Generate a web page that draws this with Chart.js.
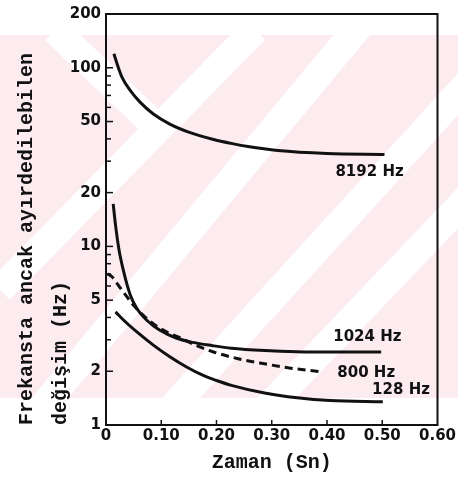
<!DOCTYPE html>
<html>
<head>
<meta charset="utf-8">
<script src="https://cdn.jsdelivr.net/npm/chart.js@4/dist/chart.umd.min.js"></script>
<style>
  html, body { margin: 0; padding: 0; background: #fff; }
  #wrap { width: 458px; height: 484px; }
</style>
</head>
<body>
<div id="wrap"><canvas id="chart" width="458" height="484"></canvas></div>
<script>
// Values (time in s, frequency change in Hz)
const x8192 = [0.0143, 0.0202, 0.0291, 0.0441, 0.062, 0.0857, 0.1155, 0.151, 0.193, 0.2286, 0.257, 0.311, 0.40, 0.504];
const y8192 = [119.7, 104.9, 88.3, 74.4, 64.0, 55.1, 48.4, 43.5, 39.8, 37.6, 36.2, 34.4, 33.1, 32.7];

const x1024 = [0.013, 0.0173, 0.0232, 0.0321, 0.0441, 0.0559, 0.0738, 0.0976, 0.127, 0.157, 0.193, 0.227, 0.2875, 0.346, 0.405, 0.498];
const y1024 = [17.3, 13.1, 9.71, 7.19, 5.32, 4.49, 3.86, 3.39, 3.07, 2.90, 2.78, 2.69, 2.61, 2.57, 2.56, 2.56];

const x800 = [0.0024, 0.0113, 0.0202, 0.029, 0.038, 0.047, 0.08, 0.1095, 0.133, 0.16, 0.192, 0.239, 0.287, 0.3345, 0.388];
const y800 = [7.03, 6.74, 6.19, 5.68, 5.21, 4.79, 3.80, 3.32, 3.09, 2.82, 2.58, 2.35, 2.20, 2.08, 1.99];

const x128 = [0.0173, 0.0321, 0.0559, 0.0857, 0.1155, 0.145, 0.175, 0.2, 0.227, 0.287, 0.346, 0.406, 0.501];
const y128 = [4.30, 3.86, 3.32, 2.80, 2.41, 2.12, 1.90, 1.775, 1.667, 1.51, 1.42, 1.37, 1.35];

const seriesLabels = ['8192 Hz', '1024 Hz', '800 Hz', '128 Hz'];
const labelX = [0.477, 0.473, 0.471, 0.534];
const labelY = [25.9, 3.10, 1.95, 1.57];

const yTickValues = [1, 2, 3, 4, 5, 6, 7, 8, 9, 10, 20, 30, 40, 50, 60, 70, 80, 90, 100, 200];
const yTickLabels = [1, 2, 5, 10, 20, 50, 100, 200];
const xTickValues = [0, 0.1, 0.2, 0.3, 0.4, 0.5, 0.6];

const toPoints = (xs, ys) => xs.map((x, i) => ({ x: x, y: ys[i] }));

const ink = '#111';
const tickFont = { family: 'DejaVu Sans', weight: 'bold', size: 15 };
const titleFont = { family: 'Liberation Mono', weight: 'bold', size: 20 };

// faint pink watermark band with white diagonal stripes behind the plot
const watermark = {
  id: 'watermark',
  beforeDraw(chart) {
    const ctx = chart.ctx;
    ctx.save();
    ctx.fillStyle = '#fff';
    ctx.fillRect(0, 0, chart.width, chart.height);
    ctx.beginPath();
    ctx.rect(0, 35, chart.width, 363);
    ctx.clip();
    ctx.fillStyle = '#fdecef';
    ctx.fillRect(0, 35, chart.width, 363);
    ctx.strokeStyle = '#fff';
    ctx.lineWidth = 28;
    const stripes = [
      [55, 30, 165, 135],
      [0, 290, 255, 30],
      [40, 410, 360, 25],
      [170, 410, 480, 70],
      [265, 410, 480, 185]
    ];
    stripes.forEach(s => {
      ctx.beginPath();
      ctx.moveTo(s[0], s[1]);
      ctx.lineTo(s[2], s[3]);
      ctx.stroke();
    });
    ctx.restore();
  }
};

// box frame, inward tick marks and curve labels
const frame = {
  id: 'frame',
  afterDraw(chart) {
    const ctx = chart.ctx;
    const a = chart.chartArea;
    const xs = chart.scales.x;
    const ys = chart.scales.y;
    ctx.save();
    ctx.strokeStyle = ink;
    ctx.lineWidth = 2;
    ctx.strokeRect(a.left, a.top, a.right - a.left, a.bottom - a.top);

    ctx.lineWidth = 1.5;
    yTickValues.forEach(v => {
      if (v === 1 || v === 200) return;
      const py = ys.getPixelForValue(v);
      const len = yTickLabels.includes(v) ? 7 : 5;
      ctx.beginPath();
      ctx.moveTo(a.left, py);
      ctx.lineTo(a.left + len, py);
      ctx.stroke();
    });
    xTickValues.forEach(v => {
      if (v === 0 || v === 0.6) return;
      const px = xs.getPixelForValue(v);
      ctx.beginPath();
      ctx.moveTo(px, a.bottom);
      ctx.lineTo(px, a.bottom - 5);
      ctx.stroke();
    });

    ctx.fillStyle = ink;
    ctx.font = 'bold 15px "DejaVu Sans"';
    ctx.textAlign = 'center';
    ctx.textBaseline = 'middle';
    seriesLabels.forEach((t, i) => {
      ctx.fillText(t, xs.getPixelForValue(labelX[i]), ys.getPixelForValue(labelY[i]));
    });
    ctx.restore();
  }
};

const lineStyle = {
  borderColor: ink,
  borderWidth: 3,
  pointRadius: 0,
  fill: false,
  cubicInterpolationMode: 'monotone'
};

new Chart(document.getElementById('chart').getContext('2d'), {
  type: 'line',
  data: {
    datasets: [
      Object.assign({ label: seriesLabels[0], data: toPoints(x8192, y8192) }, lineStyle),
      Object.assign({ label: seriesLabels[1], data: toPoints(x1024, y1024) }, lineStyle),
      Object.assign({ label: seriesLabels[2], data: toPoints(x800, y800), borderDash: [8, 5] }, lineStyle),
      Object.assign({ label: seriesLabels[3], data: toPoints(x128, y128) }, lineStyle)
    ]
  },
  options: {
    responsive: false,
    animation: false,
    layout: { padding: { left: 0, right: 16, top: 13, bottom: 0 } },
    plugins: {
      legend: { display: false },
      tooltip: { enabled: false },
      title: { display: false }
    },
    scales: {
      x: {
        type: 'linear',
        min: 0,
        max: 0.6,
        afterFit: s => { s.height = 59; },
        afterBuildTicks: s => { s.ticks = xTickValues.map(v => ({ value: v })); },
        grid: { display: false, drawTicks: false },
        border: { display: false },
        ticks: {
          autoSkip: false,
          maxRotation: 0,
          padding: 2,
          color: ink,
          font: tickFont,
          callback: v => (v === 0 ? '0' : v.toFixed(2))
        },
        title: {
          display: true,
          text: 'Zaman (Sn)',
          color: ink,
          font: titleFont,
          padding: { top: 0, bottom: 9 }
        }
      },
      y: {
        type: 'logarithmic',
        min: 1,
        max: 200,
        afterFit: s => { s.width = 106; },
        afterBuildTicks: s => { s.ticks = yTickValues.map(v => ({ value: v })); },
        grid: { display: false, drawTicks: false },
        border: { display: false },
        ticks: {
          autoSkip: false,
          padding: 5,
          color: ink,
          font: tickFont,
          callback: v => (yTickLabels.includes(v) ? String(v) : '')
        },
        title: {
          display: true,
          text: ['Frekansta ancak ayırdedilebilen', 'değişim (Hz)'],
          align: 'start',
          color: ink,
          font: Object.assign({ lineHeight: 1.7 }, titleFont),
          padding: { top: 10, bottom: 0 }
        }
      }
    }
  },
  plugins: [watermark, frame]
});
</script>
</body>
</html>
